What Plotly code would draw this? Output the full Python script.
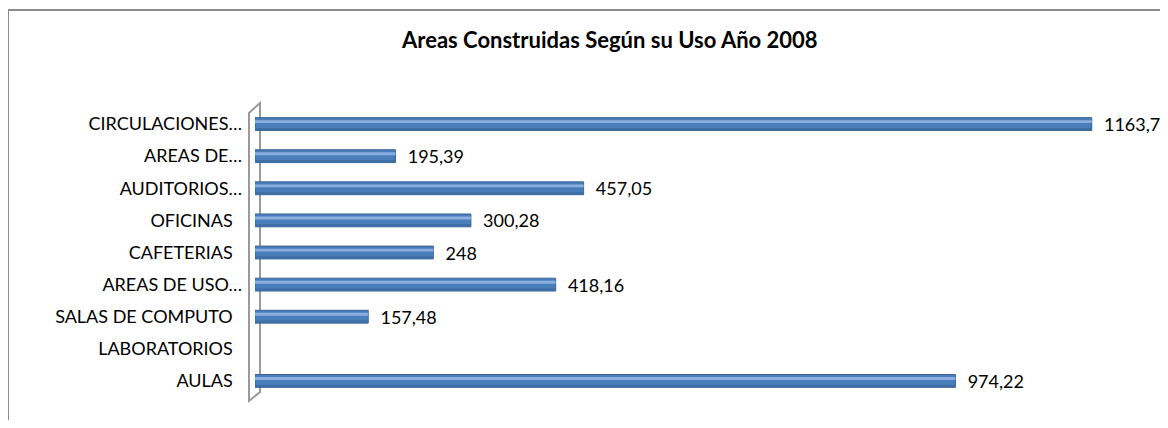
import plotly.graph_objects as go

categories = ["AULAS", "LABORATORIOS", "SALAS DE COMPUTO", "AREAS DE USO…",
              "CAFETERIAS", "OFICINAS", "AUDITORIOS…", "AREAS DE…", "CIRCULACIONES…"]
values = [974.22, None, 157.48, 418.16, 248, 300.28, 457.05, 195.39, 1163.78]
title_text = "Areas Construidas Según su Uso Año 2008"

# page body has an 8px margin; figure sits at (8, 8)
OFF = 8
W, H = 1168 - OFF, 428 - 2 * OFF
L, R, T = 255 - OFF, 0, 108 - OFF
B = H - (397 - OFF)
XMAX = (W - R - L) / 0.719

def fmt(v):
    if v is None:
        return ""
    s = ("%.2f" % v).rstrip("0").rstrip(".")
    return "\u00a0\u00a0" + s.replace(".", ",")

labels = [fmt(v) for v in values]
ticktext = [c if c.endswith("…") else c + "\u00a0" * 2 for c in categories]

FONT = "Lato"
FS = 18
fig = go.Figure()
fig.add_trace(go.Bar(
    y=categories, x=values, orientation="h",
    width=0.40, offset=-0.20,
    marker=dict(color="#4A7EBB", line=dict(color="#3A6598", width=1)),
    text=labels, textposition="outside", cliponaxis=False,
    constraintext="none",
    textfont=dict(family=FONT, size=FS, color="#000000"),
    hoverinfo="skip",
))
fig.add_trace(go.Bar(
    y=categories, x=values, orientation="h",
    width=0.09, offset=0.03,
    marker=dict(color="#8AAEDF", line=dict(width=0)),
    hoverinfo="skip",
))
fig.add_trace(go.Bar(
    y=categories, x=values, orientation="h",
    width=0.07, offset=-0.19,
    marker=dict(color="#3F6DA6", line=dict(width=0)),
    hoverinfo="skip",
))

pw = W - L - R
ph = H - T - B
def px(x):
    return (x - OFF - L) / pw
def py(y):
    return (H - B - (y - OFF)) / ph

border = dict(color="#8C8C8C", width=2)
shapes = [
    # wall
    dict(type="path", xref="paper", yref="paper", layer="below",
         path=f"M {px(249)} {py(113)} L {px(260)} {py(103)} L {px(260)} {py(392)} "
              f"L {px(249)} {py(401)} Z",
         line=dict(color="#9A9A9A", width=2), fillcolor="#FFFFFF"),
    # outer chart border (top and left edges visible)
    dict(type="line", xref="paper", yref="paper", layer="above",
         x0=px(8), y0=py(10), x1=px(1200), y1=py(10), line=border),
    dict(type="line", xref="paper", yref="paper", layer="above",
         x0=px(8), y0=py(10), x1=px(8), y1=py(460), line=border),
]

fig.update_layout(
    width=W, height=H,
    margin=dict(l=L, r=R, t=T, b=B, pad=0),
    paper_bgcolor="white", plot_bgcolor="rgba(0,0,0,0)",
    barmode="overlay", showlegend=False,
    separators=",.",
    font=dict(family=FONT, size=FS, color="#000000"),
    shapes=shapes,
    xaxis=dict(range=[0, XMAX], visible=False, showgrid=False, zeroline=False),
    yaxis=dict(categoryorder="array", categoryarray=categories,
               tickmode="array", tickvals=categories, ticktext=ticktext,
               range=[-0.5, 8.5], showgrid=False, zeroline=False, showline=False,
               ticks="", ticklabelstandoff=12,
               tickfont=dict(family=FONT, size=FS, color="#000000")),
    annotations=[
        dict(text="<b>" + title_text + "</b>", xref="paper", yref="paper",
             x=px(609), y=py(40), xanchor="center", yanchor="middle",
             showarrow=False, font=dict(family=FONT, size=22, color="#000000")),
        dict(text="<b>g</b>", xref="paper", yref="paper",
             x=px(488), y=py(-10), xanchor="center", yanchor="middle",
             showarrow=False, font=dict(family=FONT, size=30, color="#000000")),
    ],
)

fig.write_html("out.html")
